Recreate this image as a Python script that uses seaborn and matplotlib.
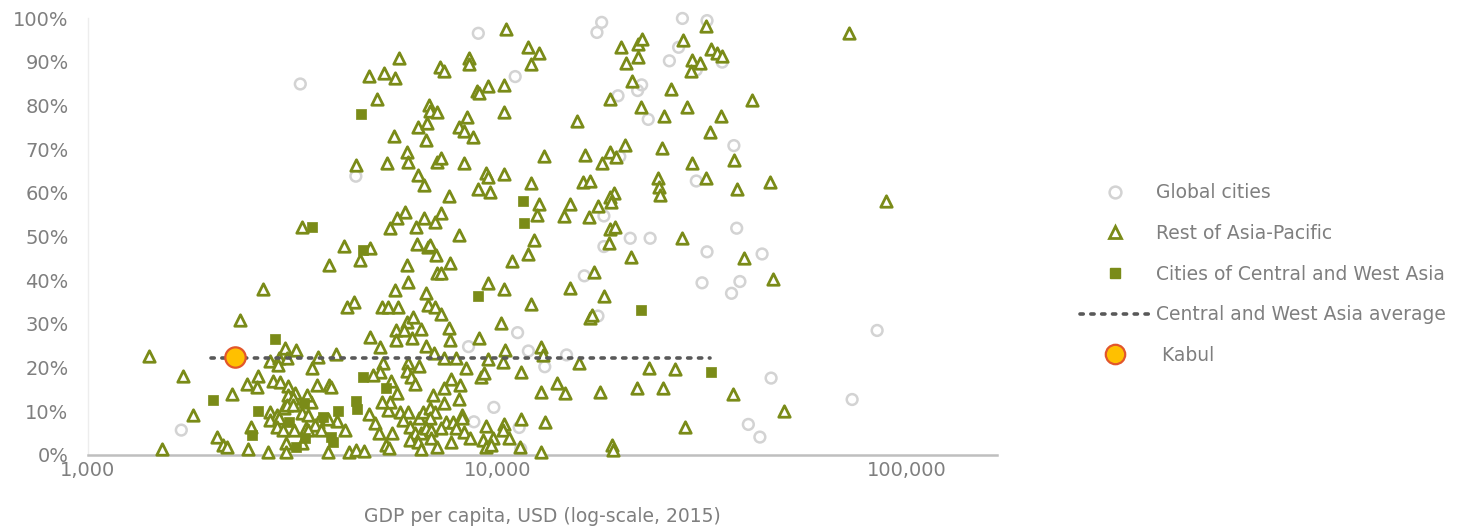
import matplotlib
matplotlib.use("Agg")
import matplotlib.pyplot as plt
from matplotlib.lines import Line2D
from matplotlib.ticker import FixedLocator, FuncFormatter, NullLocator
import seaborn as sns
import pandas as pd

# ---------------- data (GDP per capita in USD thousands, share in %) ----------------
global_gdp = [3.30, 4.51, 8.98, 11.05, 16.3, 11.2, 8.5, 11.9, 14.75, 13.05, 9.8, 8.76, 11.3, 11.4,
              17.97, 17.5, 28.3, 32.5, 27.7, 26.3, 35.4, 30.6, 22.5, 22.0, 19.7, 23.35, 19.9, 37.8,
              30.6, 18.2, 18.2, 21.1, 23.6, 38.4, 32.5, 44.3, 31.6, 39.1, 37.3, 17.6, 84.6, 46.6,
              73.5, 41.0, 43.75, 1.69]
global_share = [84.9, 63.8, 96.5, 86.6, 41.0, 28.0, 24.8, 23.8, 22.9, 20.2, 10.9, 7.6, 6.3, 1.4,
                99.0, 96.7, 99.9, 99.4, 93.3, 90.2, 89.9, 88.1, 84.7, 83.4, 82.2, 76.8, 68.3, 70.8,
                62.7, 54.7, 47.7, 49.6, 49.6, 51.9, 46.5, 46.0, 39.4, 39.7, 37.0, 31.8, 28.5, 17.6,
                12.7, 7.0, 4.1, 5.7]

asia_gdp = [5.75, 4.86, 5.27, 5.62, 5.09, 6.80, 6.84, 7.13, 7.24, 6.38, 6.73, 5.60, 6.70, 6.03, 6.05,
            5.38, 4.51, 7.10,
            6.41, 6.61, 5.94, 5.67, 5.48, 6.63, 7.04, 6.34, 3.34, 4.22, 4.88, 4.61, 3.88, 6.37, 6.75,
            6.84, 7.06, 6.03, 6.05, 5.62, 7.13, 6.70, 4.47, 4.28, 5.21, 5.40, 5.72, 6.77, 7.04,
            6.0, 6.22, 5.64, 5.92, 6.49, 6.19, 5.64, 4.88, 6.70, 5.17, 7.01, 3.64, 4.03, 3.53, 5.24,
            5.17, 4.98, 6.06, 6.43, 6.03, 6.14, 6.28, 5.51, 5.67, 3.62, 3.88, 3.93, 6.95, 3.51, 3.42,
            3.33, 3.44, 3.41, 3.65, 4.05, 4.24, 3.33, 3.85, 4.35, 4.51, 4.72, 4.86, 5.01, 5.13, 5.54,
            5.33, 5.42, 5.40, 5.46, 5.21, 5.78, 6.05, 5.88, 6.12, 6.28, 6.45, 6.57, 6.84, 7.04, 6.84,
            6.50, 6.70, 6.90, 6.90, 6.12, 6.41, 6.50, 7.10, 3.58, 3.70, 3.85, 3.44,
            2.35, 3.02, 3.23, 1.41, 2.78, 2.93, 2.91, 3.07, 1.71, 2.60, 2.45, 2.58, 2.25, 2.83, 2.94,
            3.08, 3.21, 3.08, 3.17, 1.80, 2.78, 2.90, 3.01, 3.06, 3.17, 2.78, 2.92, 2.90, 2.99, 3.19,
            2.50, 2.07, 2.14, 2.18, 2.46, 2.75, 3.05, 3.05, 1.52, 2.68,
            10.5, 11.9, 12.6, 12.05, 8.53, 8.51, 7.39, 9.49, 8.9, 9.0, 10.39, 10.38, 8.44, 8.05, 8.3,
            8.73, 15.6, 12.99, 16.4, 8.27, 7.3,
            9.4, 9.5, 10.4, 12.1, 8.98, 9.6, 7.61, 7.3, 12.66, 12.5, 15.0, 14.5, 16.2, 16.8, 16.7,
            8.07, 12.3, 11.9, 10.83, 7.65, 7.3, 9.5, 10.38, 12.1, 15.0,
            10.2, 16.8, 7.6, 7.65, 9.0, 10.45, 12.8, 12.9, 15.8, 7.4, 7.94, 8.4, 9.5, 10.3, 11.4, 9.14,
            9.27, 7.7, 8.1, 7.4, 14.0, 14.6, 12.76, 8.07, 7.4, 8.2, 8.2, 7.5, 7.8, 11.4, 13.05, 9.4,
            10.4, 10.3, 7.94, 8.3, 8.57, 7.3, 9.2, 9.75, 10.7, 7.69, 9.36, 9.66, 11.37, 12.8, 7.3,
            32.4, 72.3, 20.0, 22.1, 22.6, 22.0, 20.6, 28.4, 33.3, 34.3, 35.4, 29.8, 31.3, 29.7, 21.3,
            26.6, 18.8, 22.4, 29.1, 41.75, 25.5, 35.1, 33.1, 20.5, 18.8, 19.5, 25.3, 37.8, 29.8, 17.97,
            24.7, 24.8, 25.0, 32.3, 46.3, 38.4, 88.9, 19.3, 18.8, 18.9, 17.6, 18.8, 19.4, 18.7, 28.3,
            40.0, 21.2, 17.2, 47.0, 18.2,
            17.0, 23.4, 27.2, 17.8, 21.9, 25.4, 37.7, 50.1, 28.7, 19.0, 19.1]
asia_share = [90.8, 86.7, 87.3, 86.2, 81.5, 80.1, 78.7, 78.6, 88.9, 75.1, 75.9, 73.1, 72.1, 69.4, 67.1,
              66.8, 66.4, 67.1,
              64.1, 61.8, 55.7, 54.2, 51.9, 54.2, 53.4, 52.2, 52.2, 47.8, 47.3, 44.6, 43.5, 48.2, 47.5,
              48.0, 45.8, 43.5, 39.7, 37.8, 41.6, 37.0, 34.9, 33.8, 33.8, 33.8, 33.8, 34.3, 33.9,
              30.5, 31.6, 28.6, 28.6, 28.8, 26.7, 26.3, 27.1, 24.9, 24.6, 23.4, 22.5, 23.0, 19.8, 21.0,
              19.1, 18.3, 21.0, 20.4, 19.2, 17.9, 16.2, 16.9, 14.1, 16.0, 16.0, 15.6, 13.7, 12.2, 13.7,
              9.5, 9.2, 6.1, 7.6, 7.8, 5.7, 2.7, 0.8, 0.8, 1.1, 0.9, 9.3, 7.3, 5.0, 5.0,
              2.3, 1.7, 10.3, 12.2, 12.2, 9.9, 9.9, 8.0, 6.5, 5.0, 8.4, 9.9, 10.7, 9.9, 8.4,
              5.0, 6.1, 5.7, 3.8, 3.4, 3.0, 1.4, 1.9, 6.8, 5.8, 8.3, 5.7,
              30.9, 24.4, 24.0, 22.7, 21.4, 22.1, 20.6, 22.1, 18.1, 18.1, 16.2, 15.5, 14.0, 16.9, 16.6,
              15.9, 14.3, 13.7, 13.0, 9.2, 9.9, 9.2, 10.7, 11.4, 11.4, 8.0, 8.4, 6.5, 5.7, 5.7,
              6.5, 4.2, 2.3, 1.9, 1.3, 0.8, 2.7, 0.8, 1.3, 38.1,
              97.4, 93.3, 91.9, 89.4, 90.8, 89.5, 87.9, 84.4, 83.3, 82.8, 84.7, 78.6, 77.4, 75.1, 74.2,
              72.7, 76.5, 68.5, 68.6, 66.9, 67.9,
              64.5, 63.7, 64.3, 62.2, 60.8, 60.1, 59.3, 55.3, 57.4, 54.9, 57.4, 54.7, 62.5, 62.8, 54.5,
              50.3, 49.2, 45.9, 44.4, 44.0, 41.6, 39.4, 38.1, 34.6, 38.3,
              30.1, 31.3, 29.0, 26.3, 26.7, 24.0, 24.8, 22.9, 21.0, 22.1, 22.3, 19.8, 22.0, 21.2, 18.9, 17.9,
              18.7, 17.4, 16.0, 15.4, 16.4, 14.1, 14.5, 12.8, 11.8, 9.2, 8.4, 7.5, 7.5, 8.2, 7.5, 6.7,
              7.2, 5.7, 6.1, 5.3, 3.8, 6.1, 3.4, 3.8, 3.8, 3.0, 1.9, 2.3, 1.9, 0.8, 32.2,
              98.2, 96.5, 93.3, 94.1, 95.1, 91.1, 89.8, 95.0, 92.9, 91.9, 91.4, 90.4, 89.8, 87.9, 85.6,
              83.8, 81.4, 79.7, 79.6, 81.2, 77.6, 77.6, 74.0, 70.9, 69.4, 68.3, 70.3, 67.5, 66.9, 66.9,
              63.3, 61.4, 59.5, 63.3, 62.4, 60.8, 58.1, 59.9, 59.0, 58.0, 57.0, 51.7, 52.2, 48.4, 49.6,
              45.1, 45.4, 41.8, 40.2, 36.4,
              32.0, 20.0, 19.7, 14.5, 15.3, 15.3, 13.9, 10.1, 6.3, 2.3, 1.1]

cwa_gdp = [4.65, 3.53, 4.69, 11.56, 11.6, 8.98, 22.4, 2.87, 2.02, 2.60, 3.09, 2.51, 3.23, 4.69,
           5.33, 3.36, 4.52, 4.55, 3.74, 4.07, 3.93, 3.97, 3.39, 33.2]
cwa_share = [78.1, 52.1, 46.8, 58.2, 53.0, 36.4, 33.2, 26.5, 12.6, 10.1, 7.6, 4.6, 1.9, 17.9,
             15.3, 11.8, 12.3, 10.5, 8.8, 10.1, 4.2, 3.0, 3.8, 18.9]

avg_gdp = [2.0, 33.0]
avg_share = [22.1, 22.1]

kabul_gdp = [2.28]
kabul_share = [22.4]

x_ticks = [1000, 10000, 100000]
y_ticks = [0, 10, 20, 30, 40, 50, 60, 70, 80, 90, 100]

labels = ["Global cities", "Rest of Asia-Pacific", "Cities of Central and West Asia",
          "Central and West Asia average", " Kabul"]

# ---------------- styling ----------------
OLIVE = "#7A8B18"
LIGHT = "#D3D3D3"
TXT = "#7F7F7F"

sns.set_theme(style="white")
plt.rcParams["font.family"] = ["DejaVu Sans"]

fig = plt.figure(figsize=(14.82, 5.30), dpi=100)
ax = fig.add_axes([88 / 1482, (530 - 455) / 530, (997 - 88) / 1482, (455 - 18) / 530])

def frame(g, s):
    return pd.DataFrame({"gdp": [v * 1000 for v in g], "share": [v / 100 for v in s]})

sns.scatterplot(data=frame(global_gdp, global_share), x="gdp", y="share", ax=ax,
                marker="o", s=60, facecolor="none", edgecolor=LIGHT, linewidth=1.8,
                clip_on=False, zorder=2)
sns.scatterplot(data=frame(asia_gdp, asia_share), x="gdp", y="share", ax=ax,
                marker="^", s=68, facecolor="white", edgecolor=OLIVE, linewidth=2.0,
                clip_on=False, zorder=3)
sns.scatterplot(data=frame(cwa_gdp, cwa_share), x="gdp", y="share", ax=ax,
                marker="s", s=58, facecolor=OLIVE, edgecolor=OLIVE, linewidth=0.5,
                clip_on=False, zorder=4)
sns.lineplot(data=frame(avg_gdp, avg_share), x="gdp", y="share", ax=ax,
             color="#595959", linewidth=2.6, linestyle=(0, (0.9, 2.1)),
             dash_capstyle="round", zorder=5)
sns.scatterplot(data=frame(kabul_gdp, kabul_share), x="gdp", y="share", ax=ax,
                marker="o", s=215, facecolor="#FFC000", edgecolor="#E2562B", linewidth=1.6,
                clip_on=False, zorder=6)

ax.set_xscale("log")
ax.set_xlim(1000, 166000)
ax.set_ylim(0, 1)
ax.xaxis.set_major_locator(FixedLocator(x_ticks))
ax.xaxis.set_minor_locator(NullLocator())
ax.xaxis.set_major_formatter(FuncFormatter(lambda v, p: f"{int(round(v)):,}"))
ax.yaxis.set_major_locator(FixedLocator([t / 100 for t in y_ticks]))
ax.yaxis.set_major_formatter(FuncFormatter(lambda v, p: f"{int(round(v * 100))}%"))
ax.tick_params(axis="both", length=0, colors=TXT, labelsize=14)
ax.tick_params(axis="y", pad=14)
ax.tick_params(axis="x", pad=4)
ax.set_xlabel("GDP per capita, USD (log-scale, 2015)", color=TXT, fontsize=13.5, labelpad=20)
ax.set_ylabel("")
ax.grid(False)
for side in ["top", "right"]:
    ax.spines[side].set_visible(False)
ax.spines["left"].set_color("#EDEDED")
ax.spines["left"].set_linewidth(1.0)
ax.spines["bottom"].set_color("#BFBFBF")
ax.spines["bottom"].set_linewidth(1.8)

handles = [
    Line2D([], [], linestyle="none", marker="o", markersize=8.5, markerfacecolor="none",
           markeredgecolor=LIGHT, markeredgewidth=1.8),
    Line2D([], [], linestyle="none", marker="^", markersize=9, markerfacecolor="white",
           markeredgecolor=OLIVE, markeredgewidth=2.0),
    Line2D([], [], linestyle="none", marker="s", markersize=7.5, markerfacecolor=OLIVE,
           markeredgecolor=OLIVE),
    Line2D([], [], color="#595959", linewidth=2.6, linestyle=(0, (0.9, 2.1)),
           dash_capstyle="round"),
    Line2D([], [], linestyle="none", marker="o", markersize=14, markerfacecolor="#FFC000",
           markeredgecolor="#E2562B", markeredgewidth=1.6),
]
leg = fig.legend(handles, labels, loc="center left", bbox_to_anchor=(1080 / 1482, 0.483),
                 frameon=False, fontsize=13.5, handlelength=3.7, handletextpad=0.35,
                 labelspacing=1.15, borderpad=0, borderaxespad=0)
for t in leg.get_texts():
    t.set_color(TXT)

fig.savefig("out.png", dpi=100)
